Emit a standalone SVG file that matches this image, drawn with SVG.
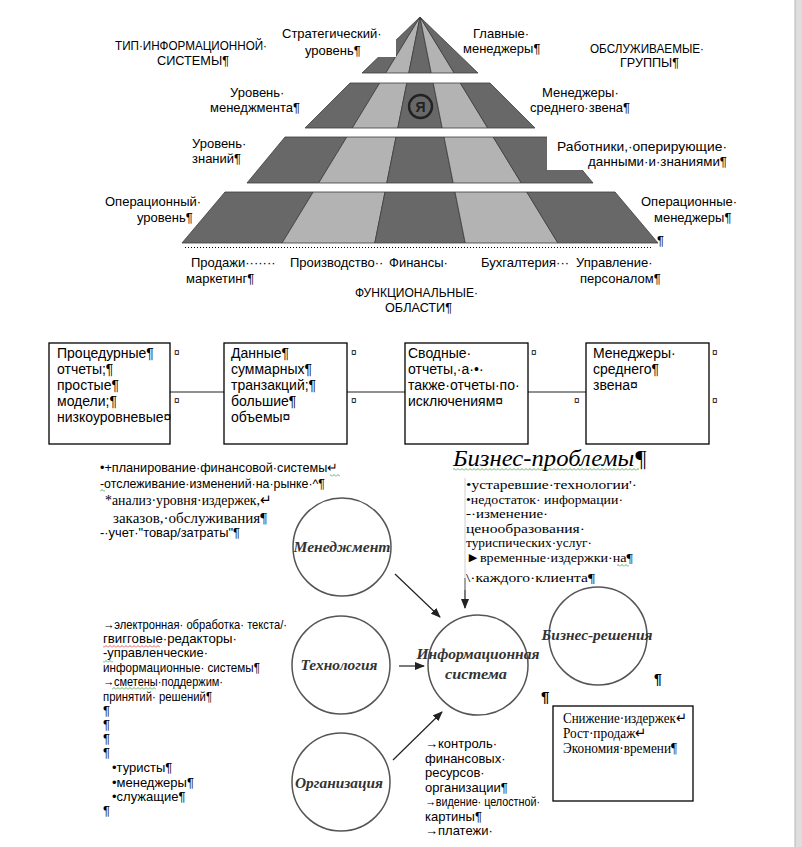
<svg xmlns="http://www.w3.org/2000/svg" width="802" height="847" viewBox="0 0 802 847">
<defs>
<style>
.s{font-family:'Liberation Sans',Arial,sans-serif;font-size:13px;fill:#000}
.b{font-family:'Liberation Sans',Arial,sans-serif;font-size:14px;fill:#000}
.sr{font-family:'Liberation Serif','Times New Roman',serif;font-size:15px;fill:#000}
.bp{font-family:'Liberation Serif','Times New Roman',serif;font-size:13.5px;fill:#000}
.c{font-family:'Liberation Serif','Times New Roman',serif;font-weight:bold;font-style:italic;fill:#333;font-size:15px;text-anchor:middle}
.cm{font-family:'Liberation Sans',Arial,sans-serif;font-size:10px;fill:#000}
.dk{fill:#686868;stroke:#3c3c3c;stroke-width:0.8}
.lt{fill:#b3b3b3;stroke:#3c3c3c;stroke-width:0.8}
.box{fill:#fff;stroke:#000;stroke-width:1.3}
.circ{fill:none;stroke:#555;stroke-width:1.5}
.con{stroke:#222;stroke-width:1.2;fill:none}
</style>
<marker id="ah" viewBox="0 0 10 8" refX="9" refY="4" markerWidth="10" markerHeight="8" markerUnits="userSpaceOnUse" orient="auto">
<path d="M0,0 L10,4 L0,8 z" fill="#222"/>
</marker>
<pattern id="sqg" width="4" height="3" patternUnits="userSpaceOnUse"><path d="M0,2.5 L2,0.5 L4,2.5" fill="none" stroke="#3a9a3a" stroke-width="0.8"/></pattern>
<pattern id="sqr" width="4" height="3" patternUnits="userSpaceOnUse"><path d="M0,2.5 L2,0.5 L4,2.5" fill="none" stroke="#e03030" stroke-width="0.8"/></pattern>
</defs>
<rect width="802" height="847" fill="#fff"/>
<rect x="795" y="0" width="7" height="847" fill="#dedede"/>
<line x1="795" y1="0" x2="795" y2="847" stroke="#b5b5b5" stroke-width="1"/>

<g id="pyramid">
<polygon class="dk" points="420,17 362,73 385.8,73"/>
<polygon class="lt" points="420,17 385.8,73 408.8,73"/>
<polygon class="dk" points="420,17 408.8,73 431.2,73"/>
<polygon class="lt" points="420,17 431.2,73 454.2,73"/>
<polygon class="dk" points="420,17 454.2,73 478,73"/>

<polygon class="dk" points="350,83 379.7,83 352.3,128 305,128"/>
<polygon class="lt" points="379.7,83 406.8,83 397.8,128 352.3,128"/>
<polygon class="dk" points="406.8,83 433.2,83 442.2,128 397.8,128"/>
<polygon class="lt" points="433.2,83 460.3,83 487.7,128 442.2,128"/>
<polygon class="dk" points="460.3,83 490,83 535,128 487.7,128"/>

<polygon class="dk" points="285,137 346.8,137 318.7,183 247,183"/>
<polygon class="lt" points="346.8,137 396,137 386.8,183 318.7,183"/>
<polygon class="dk" points="396,137 444,137 453.2,183 386.8,183"/>
<polygon class="lt" points="444,137 493.2,137 521.3,183 453.2,183"/>
<polygon class="dk" points="493.2,137 555,137 593,183 521.3,183"/>

<polygon class="dk" points="225,192 313.2,192 282.1,243 182,243"/>
<polygon class="lt" points="313.2,192 385,192 374.8,243 282.1,243"/>
<polygon class="dk" points="385,192 455,192 465.2,243 374.8,243"/>
<polygon class="lt" points="455,192 526.8,192 557.9,243 465.2,243"/>
<polygon class="dk" points="526.8,192 615,192 658,243 557.9,243"/>

<circle cx="420.5" cy="106.5" r="11.5" fill="none" stroke="#222" stroke-width="2.4"/>
<text x="420.5" y="111.5" text-anchor="middle" font-family="'Liberation Sans',Arial,sans-serif" font-weight="bold" font-size="14" fill="#222">Я</text>
<line x1="185" y1="247.5" x2="653" y2="247.5" stroke="#000" stroke-width="1" stroke-dasharray="1,2"/>
</g>

<g id="pyramid-labels">
<rect x="276" y="18" width="120" height="39" fill="#fff"/>
<rect x="547" y="133" width="192" height="37" fill="#fff"/>
<text class="s" x="282" y="38">Стратегический·</text>
<text class="s" x="305" y="55">уровень¶</text>
<text class="s" x="115" y="50" textLength="152" lengthAdjust="spacingAndGlyphs">ТИП·ИНФОРМАЦИОННОЙ·</text>
<text class="s" x="157" y="65" textLength="72" lengthAdjust="spacingAndGlyphs">СИСТЕМЫ¶</text>
<text class="s" x="473" y="38">Главные·</text>
<text class="s" x="463" y="53">менеджеры¶</text>
<text class="s" x="590" y="53" textLength="114" lengthAdjust="spacingAndGlyphs">ОБСЛУЖИВАЕМЫЕ·</text>
<text class="s" x="620" y="67" textLength="59" lengthAdjust="spacingAndGlyphs">ГРУППЫ¶</text>
<text class="s" x="230" y="97">Уровень·</text>
<text class="s" x="210" y="112">менеджмента¶</text>
<text class="s" x="542" y="97">Менеджеры·</text>
<text class="s" x="530" y="112">среднего·звена¶</text>
<text class="s" x="192" y="148">Уровень·</text>
<text class="s" x="192" y="163">знаний¶</text>
<text class="s" x="557" y="151" textLength="170" lengthAdjust="spacingAndGlyphs">Работники,·оперирующие·</text>
<text class="s" x="588" y="166" textLength="139" lengthAdjust="spacingAndGlyphs">данными·и·знаниями¶</text>
<text class="s" x="105" y="206">Операционный·</text>
<text class="s" x="137" y="222">уровень¶</text>
<text class="s" x="641" y="206">Операционные·</text>
<text class="s" x="654" y="222">менеджеры¶</text>
<text class="s" x="657" y="245">¶</text>
<text class="s" y="267"><tspan x="191">Продажи·······</tspan><tspan x="290">Производство··</tspan><tspan x="389">Финансы·</tspan></text>
<text class="s" y="267"><tspan x="481">Бухгалтерия···</tspan><tspan x="576">Управление·</tspan></text>
<text class="s" x="186" y="283">маркетинг¶</text>
<text class="s" x="580" y="283">персоналом¶</text>
<text class="s" x="355" y="297" textLength="123" lengthAdjust="spacingAndGlyphs">ФУНКЦИОНАЛЬНЫЕ·</text>
<text class="s" x="385" y="312" textLength="67" lengthAdjust="spacingAndGlyphs">ОБЛАСТИ¶</text>
</g>

<g id="connectors">
<line class="con" x1="170" y1="392" x2="224" y2="392"/>
<line class="con" x1="347" y1="392" x2="405" y2="392"/>
<line class="con" x1="528" y1="392" x2="586" y2="392"/>
<line class="con" x1="395" y1="574" x2="440" y2="617" marker-end="url(#ah)"/>
<line class="con" x1="465" y1="578" x2="465" y2="608" marker-end="url(#ah)"/>
<line class="con" x1="399" y1="666" x2="424" y2="666" marker-end="url(#ah)"/>
<line class="con" x1="393" y1="760" x2="442" y2="712" marker-end="url(#ah)"/>
</g>

<g id="box1">
<rect class="box" x="49" y="343" width="121" height="101"/>
<text class="b" x="57" y="358">Процедурные¶</text>
<text class="b" x="57" y="374">отчеты;¶</text>
<text class="b" x="57" y="390">простые¶</text>
<text class="b" x="57" y="406">модели;¶</text>
<text class="b" x="57" y="422">низкоуровневые¤</text>
<text class="cm" x="174" y="356">¤</text>
<text class="cm" x="174" y="404">¤</text>
</g>
<g id="box2">
<rect class="box" x="224" y="343" width="123" height="101"/>
<text class="b" x="231" y="358">Данные¶</text>
<text class="b" x="231" y="374">суммарных¶</text>
<text class="b" x="231" y="390">транзакций;¶</text>
<text class="b" x="231" y="406">большие¶</text>
<text class="b" x="231" y="422">объемы¤</text>
<text class="cm" x="351" y="356">¤</text>
<text class="cm" x="351" y="404">¤</text>
</g>
<g id="box3">
<rect class="box" x="405" y="343" width="123" height="101"/>
<text class="b" x="408" y="358">Сводные·</text>
<text class="b" x="408" y="374">отчеты,·а·•·</text>
<text class="b" x="408" y="390">также·отчеты·по·</text>
<text class="b" x="408" y="406">исключениям¤</text>
<text class="cm" x="531" y="356">¤</text>
<text class="cm" x="574" y="404">¤</text>
</g>
<g id="box4">
<rect class="box" x="586" y="343" width="123" height="101"/>
<text class="b" x="593" y="358">Менеджеры·</text>
<text class="b" x="593" y="374">среднего¶</text>
<text class="b" x="593" y="390">звена¤</text>
<text class="cm" x="712" y="356">¤</text>
<text class="cm" x="712" y="404">¤</text>
</g>

<g id="management-notes">
<text class="s" x="100" y="472" textLength="238" lengthAdjust="spacingAndGlyphs">•+планирование·финансовой·системы↵</text>
<text class="s" x="100" y="488" textLength="225" lengthAdjust="spacingAndGlyphs">-отслеживание·изменений·на·рынке·^¶</text>
<text class="sr" x="105" y="505" textLength="167" lengthAdjust="spacingAndGlyphs">*анализ·уровня·издержек,↵</text>
<text class="sr" x="113" y="523" textLength="154" lengthAdjust="spacingAndGlyphs">заказов,·обслуживания¶</text>
<text class="s" x="100" y="537" textLength="140" lengthAdjust="spacingAndGlyphs">-·учет·"товар/затраты"¶</text>
<rect x="330" y="474" width="10" height="3" fill="url(#sqg)"/>
<rect x="100" y="489" width="5" height="3" fill="url(#sqg)"/>
</g>

<g id="business-problems">
<text x="453" y="466" font-family="'Liberation Serif','Times New Roman',serif" font-style="italic" font-size="24" textLength="194" lengthAdjust="spacingAndGlyphs">Бизнес-проблемы¶</text>
<rect x="453" y="468" width="186" height="3" fill="url(#sqg)"/>
<line x1="465" y1="478" x2="465" y2="590" stroke="#cfcfcf" stroke-width="1"/>
<text class="bp" x="466" y="489" textLength="171" lengthAdjust="spacingAndGlyphs">•устаревшие·технологии'·</text>
<text class="bp" x="466" y="503.5" textLength="157" lengthAdjust="spacingAndGlyphs">•недостаток· информации·</text>
<text class="bp" x="466" y="518" textLength="82" lengthAdjust="spacingAndGlyphs">-·изменение·</text>
<text class="bp" x="466" y="532.5" textLength="119" lengthAdjust="spacingAndGlyphs">ценообразования·</text>
<text class="bp" x="466" y="547" textLength="126" lengthAdjust="spacingAndGlyphs">туриспических·услуг·</text>
<text class="bp" x="466" y="562" textLength="167" lengthAdjust="spacingAndGlyphs">►временные·издержки·на¶</text>
<text class="bp" x="466" y="582" textLength="129" lengthAdjust="spacingAndGlyphs">\·каждого·клиента¶</text>
<rect x="617" y="564" width="12" height="3" fill="url(#sqg)"/>
</g>

<g id="technology-notes">
<text class="s" x="103" y="629" textLength="184" lengthAdjust="spacingAndGlyphs">→электронная· обработка· текста/·</text>
<text class="s" x="103" y="643" textLength="134" lengthAdjust="spacingAndGlyphs">гвигговые·редакторы·</text>
<rect x="103" y="645" width="57" height="3" fill="url(#sqr)"/>
<text class="s" x="103" y="657" textLength="105" lengthAdjust="spacingAndGlyphs">-управленческие·</text>
<rect x="103" y="660" width="10" height="3" fill="url(#sqg)"/>
<text class="s" x="103" y="672" textLength="157" lengthAdjust="spacingAndGlyphs">информационные· системы¶</text>
<text class="s" x="103" y="686" textLength="120" lengthAdjust="spacingAndGlyphs">→сметены·поддержим·</text>
<rect x="112" y="687" width="44" height="3" fill="url(#sqg)"/>
<text class="s" x="103" y="701" textLength="109" lengthAdjust="spacingAndGlyphs">принятий· решений¶</text>
<text class="s" x="103" y="715">¶</text>
<text class="s" x="103" y="729">¶</text>
<text class="s" x="103" y="743">¶</text>
<text class="s" x="103" y="757">¶</text>
<text class="s" x="112" y="772">•туристы¶</text>
<text class="s" x="112" y="787">•менеджеры¶</text>
<text class="s" x="112" y="801">•служащие¶</text>
<text class="s" x="103" y="815">¶</text>
</g>

<g id="node-management">
<circle class="circ" cx="342" cy="547" r="49"/>
<text class="c" x="342" y="552" textLength="97" lengthAdjust="spacingAndGlyphs">Менеджмент</text>
</g>
<g id="node-technology">
<circle class="circ" cx="341" cy="665" r="49"/>
<text class="c" x="339" y="670" textLength="77" lengthAdjust="spacingAndGlyphs">Технология</text>
</g>
<g id="node-organization">
<circle class="circ" cx="341" cy="782" r="49"/>
<text class="c" x="339" y="788" textLength="88" lengthAdjust="spacingAndGlyphs">Организация</text>
</g>
<g id="node-is">
<circle class="circ" cx="478" cy="665" r="50"/>
<text class="c" x="478" y="659" textLength="123" lengthAdjust="spacingAndGlyphs">Информационная</text>
<text class="c" x="476" y="679" textLength="62" lengthAdjust="spacingAndGlyphs">система</text>
</g>
<g id="node-business-solutions">
<circle class="circ" cx="598" cy="636" r="49"/>
<text class="c" x="597" y="640" textLength="111" lengthAdjust="spacingAndGlyphs">Бизнес-решения</text>
</g>

<g id="marks">
<text x="654" y="684" font-family="'Liberation Sans',Arial,sans-serif" font-size="14" font-weight="bold">¶</text>
<text x="541" y="702" font-family="'Liberation Sans',Arial,sans-serif" font-size="15" font-weight="bold">¶</text>
</g>

<g id="results-box">
<rect class="box" x="553" y="706" width="140" height="95"/>
<text class="sr" x="563" y="723" font-size="13.5" textLength="124" lengthAdjust="spacingAndGlyphs">Снижение·издержек↵</text>
<text class="sr" x="563" y="738" font-size="13.5" textLength="84" lengthAdjust="spacingAndGlyphs">Рост·продаж↵</text>
<text class="sr" x="563" y="753" font-size="13.5" textLength="114" lengthAdjust="spacingAndGlyphs">Экономия·времени¶</text>
</g>

<g id="organization-notes">
<text class="s" x="425" y="748">→контроль·</text>
<text class="s" x="425" y="763">финансовых·</text>
<text class="s" x="425" y="777">ресурсов·</text>
<text class="s" x="425" y="792">организации¶</text>
<text class="s" x="425" y="806" textLength="115" lengthAdjust="spacingAndGlyphs">→видение· целостной·</text>
<text class="s" x="425" y="821">картины¶</text>
<text class="s" x="425" y="835">→платежи·</text>
</g>
</svg>
